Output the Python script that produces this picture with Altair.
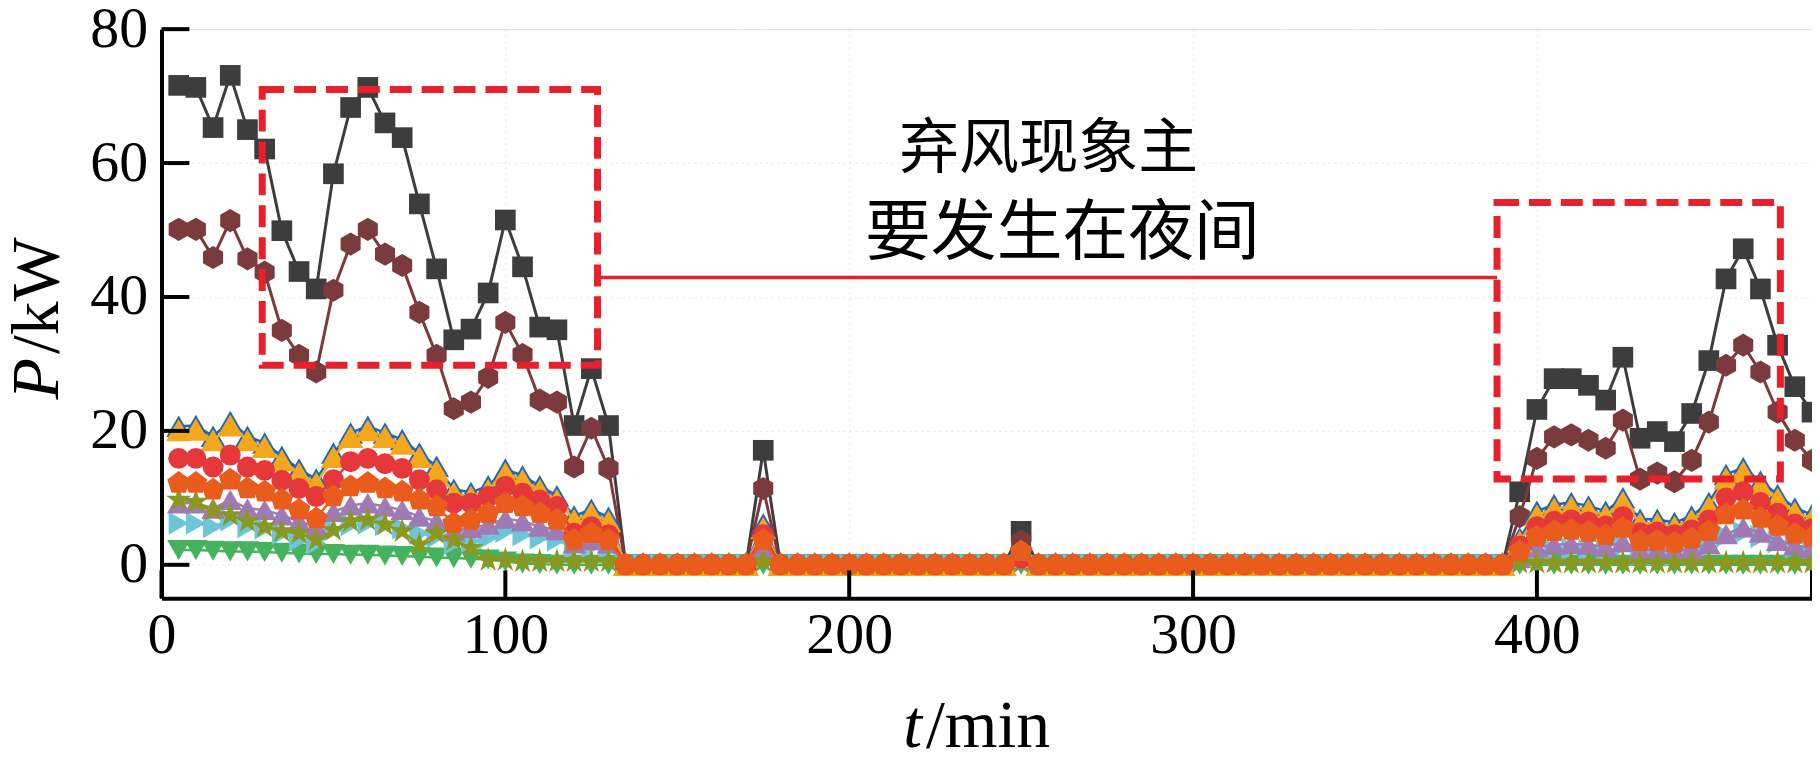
import altair as alt
import pandas as pd

# ---------------- data (t in minutes, P in kW) ----------------
T = list(range(5, 481, 5))  # 96 samples, every 5 min

# values: left block t=5..130 (26), spikes at t=175 and t=250,
# right block t=395..480 (18); everything else is zero
gray_left = [71.6, 71.3, 65.3, 73.1, 65.0, 62.1, 49.9, 43.8, 41.2, 58.4, 68.3, 71.3, 66.0,
             63.8, 53.9, 44.2, 33.6, 35.2, 40.6, 51.5, 44.5, 35.5, 35.1, 20.8, 29.3, 20.8]
gray_spikes = [17.1, 5.0]
gray_right = [10.9, 23.2, 27.8, 27.8, 26.8, 24.6, 31.0, 18.9, 19.9, 18.4, 22.6, 30.5, 42.7,
              47.2, 41.2, 32.8, 26.6, 22.8]

brown_left = [50.1, 50.1, 45.9, 51.4, 45.7, 43.7, 35.0, 31.3, 28.8, 41.0, 47.9, 50.1, 46.4,
              44.7, 37.7, 31.3, 23.3, 24.3, 28.0, 36.2, 31.4, 24.6, 24.3, 14.6, 20.4, 14.4]
brown_spikes = [11.4, 3.5]
brown_right = [7.2, 15.9, 19.1, 19.4, 18.6, 17.4, 21.6, 12.8, 13.7, 12.4, 15.6, 21.3, 29.8,
               32.8, 28.8, 22.8, 18.6, 15.6]

blue_left = [20.7, 20.8, 19.2, 21.4, 19.2, 18.2, 16.2, 14.3, 12.8, 16.7, 19.7, 20.7, 19.7,
             18.7, 16.7, 14.7, 11.3, 10.8, 11.8, 14.3, 13.3, 11.8, 10.3, 7.3, 8.3, 7.1]
blue_spikes = [6.1, 1.6]
blue_right = [4.0, 8.0, 9.0, 9.3, 8.8, 8.0, 10.0, 6.8, 6.8, 6.3, 7.3, 9.3, 13.5, 14.5, 12.5,
              10.5, 8.5, 7.5]

yellow_left = [20.1, 20.2, 18.6, 20.8, 18.6, 17.6, 15.6, 13.7, 12.2, 16.1, 19.1, 20.1, 19.1,
               18.1, 16.1, 14.1, 10.7, 10.2, 11.2, 13.7, 12.7, 11.2, 9.7, 6.7, 7.7, 6.5]
yellow_spikes = [5.5, 1.2]
yellow_right = [3.5, 7.4, 8.4, 8.7, 8.2, 7.4, 9.4, 6.2, 6.2, 5.7, 6.7, 8.7, 12.9, 13.9, 11.9,
                9.9, 7.9, 6.9]

red_left = [15.9, 15.9, 14.6, 16.4, 14.6, 14.1, 12.6, 11.4, 10.2, 12.7, 15.4, 15.9, 15.1,
            14.4, 12.7, 11.2, 9.2, 9.2, 10.2, 11.7, 10.7, 9.7, 8.7, 4.7, 5.7, 4.5]
red_spikes = [4.5, 1.0]
red_right = [2.8, 5.7, 6.5, 6.7, 6.4, 5.8, 7.2, 4.8, 4.9, 4.5, 5.2, 6.7, 10.0, 10.9, 9.3,
             7.7, 6.1, 5.4]

orange_left = [12.2, 12.2, 11.2, 12.7, 11.4, 10.9, 9.7, 8.2, 6.9, 10.2, 11.7, 12.2, 11.4,
               10.9, 9.7, 8.7, 6.2, 6.7, 7.7, 9.2, 8.7, 7.7, 6.7, 3.7, 4.7, 3.7]
orange_spikes = [3.7, 2.0]
orange_right = [2.0, 4.2, 5.0, 5.2, 4.9, 4.4, 5.5, 3.5, 3.6, 3.3, 3.9, 5.0, 7.5, 8.2, 7.0,
                5.8, 4.6, 4.1]

purple_left = [9.2, 9.2, 8.4, 9.7, 8.4, 8.2, 7.4, 6.5, 5.7, 7.9, 8.9, 9.2, 8.7, 8.2, 7.2,
               6.5, 5.0, 5.5, 6.0, 6.9, 6.5, 5.7, 5.2, 3.2, 3.7, 3.2]
purple_spikes = [2.5, 0.8]
purple_right = [1.0, 2.6, 3.0, 3.1, 3.0, 2.7, 3.4, 2.2, 2.2, 2.0, 2.4, 3.1, 4.6, 5.6, 4.8,
                3.6, 2.9, 2.5]

cyan_left = [6.2, 6.2, 5.7, 6.7, 5.7, 5.5, 4.7, 3.7, 3.2, 5.2, 6.0, 6.2, 6.0, 5.5, 4.7, 4.2,
             3.2, 3.5, 4.0, 5.0, 4.5, 4.0, 3.7, 2.5, 2.7, 2.5]
cyan_spikes = [1.5, 0.5]
cyan_right = [0.5, 1.5, 2.2, 2.3, 2.2, 2.0, 2.8, 1.5, 1.5, 1.4, 1.8, 2.7, 4.3, 4.8, 4.2, 3.4,
              2.6, 2.3]

olive_left = [9.7, 9.4, 8.2, 7.4, 6.5, 5.7, 5.0, 4.7, 3.7, 5.2, 6.5, 6.7, 6.0, 5.0, 3.0, 4.7,
              3.7, 2.5, 0.7, 0.7, 0.5, 0.5, 0.5, 0.5, 0.5, 0.5]
olive_spikes = [0.5, 0.3]
olive_right = [0.3, 0.3, 0.3, 0.3, 0.3, 0.3, 0.3, 0.3, 0.3, 0.3, 0.3, 0.3, 0.3, 0.3, 0.3,
               0.3, 0.3, 0.3]

green_left = [2.2, 2.2, 2.1, 2.0, 2.0, 1.9, 1.8, 1.7, 1.6, 1.6, 1.5, 1.5, 1.4, 1.3, 1.2, 1.1,
              1.0, 0.9, 0.8, 0.5, 0.2, 0.1, 0.0, 0.0, 0.0, 0.0]
green_spikes = [0.0, 0.0]
green_right = [0.0, 0.0, 0.0, 0.0, 0.0, 0.0, 0.0, 0.0, 0.0, 0.0, 0.0, 0.0, 0.0, 0.0, 0.0,
               0.0, 0.0, 0.0]

# zero stretches: t=135..170 (8), t=180..245 (14), t=255..390 (28)
ZERO_A = [0.0] * 8
ZERO_B = [0.0] * 14
ZERO_C = [0.0] * 28


def assemble(left, spikes, right):
    return left + ZERO_A + [spikes[0]] + ZERO_B + [spikes[1]] + ZERO_C + right


X_TICKS = [0, 100, 200, 300, 400]
X_TICK_MARKS = [0, 100, 200, 300, 400, 480]
Y_TICKS = [0, 20, 40, 60, 80]

# annotation boxes / connector / text
box_x1 = [29.3, 388.4]
box_x2 = [126.8, 470.8]
box_y1 = [29.8, 12.8]
box_y2 = [71.0, 54.1]
link_x = [126.8]
link_x2 = [388.4]
link_y = [42.9]
note1_t, note1_p, note1_txt = [258.0], [62.0], ["弃风现象主"]
note2_t, note2_p, note2_txt = [262.0], [49.4], ["要发生在夜间"]

# ---------------- chart ----------------
W, H = 1656, 571
SERIF = "Liberation Serif"
CJK = "Noto Sans CJK SC"
RED = "#e8202a"

HEX = "M0,-1L0.866,-0.5L0.866,0.5L0,1L-0.866,0.5L-0.866,-0.5Z"
PENT = "M0,-1L0.951,-0.309L0.588,0.809L-0.588,0.809L-0.951,-0.309Z"
STAR = ("M0,-1L0.225,-0.309L0.951,-0.309L0.363,0.118L0.588,0.809L0,0.382"
        "L-0.588,0.809L-0.363,0.118L-0.951,-0.309L-0.225,-0.309Z")

xscale = alt.Scale(domain=[0, 480], nice=False, zero=False)
yscale = alt.Scale(domain=[-5, 80], nice=False, zero=False)

common_axis = dict(title=None, labelFont=SERIF, labelFontSize=58, labelColor="black",
                   ticks=False, tickSize=0, domainColor="black", domainWidth=4,
                   grid=True, gridColor="#e6e6e6", gridDash=[2, 4], gridWidth=1,
                   labelOverlap=False, format="d")
xaxis = alt.Axis(values=X_TICKS, labelPadding=8, labelFlush=False, **common_axis)
yaxis = alt.Axis(values=Y_TICKS, labelPadding=14, **common_axis)

X = alt.X("t:Q", scale=xscale, axis=xaxis)
Y = alt.Y("P:Q", scale=yscale, axis=yaxis)

# draw order: bottom -> top
series = [
    ("gray", assemble(gray_left, gray_spikes, gray_right), "#3d3d3d", "square", 430, 3),
    ("brown", assemble(brown_left, brown_spikes, brown_right), "#7b3a3c", HEX, 540, 3),
    ("green", assemble(green_left, green_spikes, green_right), "#45b35d", "triangle-down", 540, 2.5),
    ("cyan", assemble(cyan_left, cyan_spikes, cyan_right), "#6bc6d8", "triangle-right", 540, 2.5),
    ("purple", assemble(purple_left, purple_spikes, purple_right), "#a07ab5", "triangle-up", 560, 2.5),
    ("olive", assemble(olive_left, olive_spikes, olive_right), "#8a981f", STAR, 700, 2.5),
    ("blue", assemble(blue_left, blue_spikes, blue_right), "#2066b8", "triangle-up", 620, 2.5),
    ("yellow", assemble(yellow_left, yellow_spikes, yellow_right), "#f4a71d", "triangle-up", 660, 2.5),
    ("red", assemble(red_left, red_spikes, red_right), "#e6373b", "circle", 440, 2.5),
    ("orange", assemble(orange_left, orange_spikes, orange_right), "#e95c1b", PENT, 580, 2.5),
]

layers = []
for name, vals, color, shape, size, lw in series:
    df = pd.DataFrame({"t": T, "P": vals})
    base = alt.Chart(df)
    layers.append(base.mark_line(color=color, strokeWidth=lw).encode(x=X, y=Y))
    layers.append(base.mark_point(shape=shape, filled=True, fill=color, size=size,
                                  opacity=1, strokeWidth=0).encode(x=X, y=Y))

# inward tick marks
xt = alt.Chart(pd.DataFrame({"t": X_TICK_MARKS})).mark_rule(color="black", strokeWidth=4).encode(
    x=X, y=alt.value(H), y2=alt.value(H - 28))
yt = alt.Chart(pd.DataFrame({"P": Y_TICKS})).mark_rule(color="black", strokeWidth=4).encode(
    y=Y, x=alt.value(0), x2=alt.value(28))

boxes = alt.Chart(pd.DataFrame({"t": box_x1, "t2": box_x2, "P": box_y1, "P2": box_y2})).mark_rect(
    fillOpacity=0, stroke=RED, strokeWidth=7, strokeDash=[22, 10]).encode(
    x=X, x2="t2:Q", y=Y, y2="P2:Q")

link = alt.Chart(pd.DataFrame({"t": link_x, "t2": link_x2, "P": link_y})).mark_rule(
    color=RED, strokeWidth=3.5).encode(x=X, x2="t2:Q", y=Y)

note1 = alt.Chart(pd.DataFrame({"t": note1_t, "P": note1_p, "txt": note1_txt})).mark_text(
    font=CJK, fontSize=60, color="black", align="center", baseline="middle").encode(
    x=X, y=Y, text="txt:N")
note2 = alt.Chart(pd.DataFrame({"t": note2_t, "P": note2_p, "txt": note2_txt})).mark_text(
    font=CJK, fontSize=66, color="black", align="center", baseline="middle").encode(
    x=X, y=Y, text="txt:N")

# axis titles with italic variable symbols
TFS = 68
yt_p = alt.Chart(pd.DataFrame({"s": ["P"]})).mark_text(
    font=SERIF, fontSize=TFS, fontStyle="italic", angle=270, align="right",
    baseline="middle", color="black").encode(text="s:N", x=alt.value(-124), y=alt.value(330))
yt_u = alt.Chart(pd.DataFrame({"s": ["/kW"]})).mark_text(
    font=SERIF, fontSize=TFS, angle=270, align="left",
    baseline="middle", color="black").encode(text="s:N", x=alt.value(-124), y=alt.value(326))
xt_t = alt.Chart(pd.DataFrame({"s": ["t"]})).mark_text(
    font=SERIF, fontSize=TFS, fontStyle="italic", align="right",
    baseline="middle", color="black").encode(text="s:N", x=alt.value(763), y=alt.value(700))
xt_u = alt.Chart(pd.DataFrame({"s": ["/min"]})).mark_text(
    font=SERIF, fontSize=TFS, align="left",
    baseline="middle", color="black").encode(text="s:N", x=alt.value(767), y=alt.value(700))

chart = alt.layer(*layers, xt, yt, boxes, link, note1, note2, yt_p, yt_u, xt_t, xt_u).properties(
    width=W, height=H,
    padding={"left": 154, "top": 20, "right": 0, "bottom": 150},
    autosize=alt.AutoSizeParams(type="none"),
).configure_view(stroke=None).configure(background="white")

chart.save("out.html", embed_options={"renderer": "svg", "actions": False})
